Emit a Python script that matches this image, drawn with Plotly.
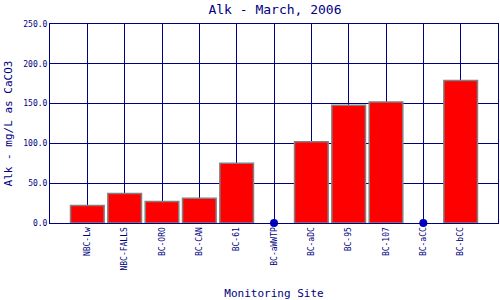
import plotly.graph_objects as go

sites = ["NBC-Lw", "NBC-FALLS", "BC-ORO", "BC-CAN", "BC-61", "BC-aWWTP",
         "BC-aDC", "BC-95", "BC-107", "BC-aCC", "BC-bCC"]
alk = [22, 37, 27, 31, 75, None, 102, 148, 152, None, 179]
missing_sites = ["BC-aWWTP", "BC-aCC"]
missing_vals = [0, 0]
yticks = [0, 50, 100, 150, 200, 250]

navy = "#000080"
font = "DejaVu Sans Mono"

fig = go.Figure()
fig.add_trace(go.Bar(x=sites, y=alk, width=0.9,
                     marker=dict(color="#FF0000", line=dict(color="#808080", width=1.5))))
fig.add_trace(go.Scatter(x=missing_sites, y=missing_vals, mode="markers",
                         marker=dict(color="#0000CC", size=8), cliponaxis=False))

fig.update_layout(
    width=500, height=300,
    margin=dict(l=50, r=1, t=24, b=75),
    paper_bgcolor="white", plot_bgcolor="white",
    showlegend=False,
    title=dict(text="Alk - March, 2006", x=0.55, xanchor="center", y=0.985, yanchor="top",
               font=dict(family=font, size=13, color=navy)),
    xaxis=dict(range=[-1, 11], tickmode="array", tickvals=list(range(11)), ticktext=sites,
               tickangle=-90, tickfont=dict(family=font, size=8, color=navy),
               showgrid=True, gridcolor=navy, gridwidth=1, ticks="",
               showline=True, linecolor=navy, linewidth=1, mirror=True,
               title=dict(text="Monitoring Site", font=dict(family=font, size=11, color=navy), standoff=21)),
    yaxis=dict(range=[0, 250], tickvals=yticks, tickformat=".1f",
               tickfont=dict(family=font, size=8, color=navy),
               showgrid=True, gridcolor=navy, gridwidth=1, ticks="", zeroline=False,
               showline=True, linecolor=navy, linewidth=1, mirror=True,
               title=dict(text="Alk - mg/L as CaCO3", font=dict(family=font, size=11, color=navy), standoff=8)),
)
fig.write_html("out.html")
